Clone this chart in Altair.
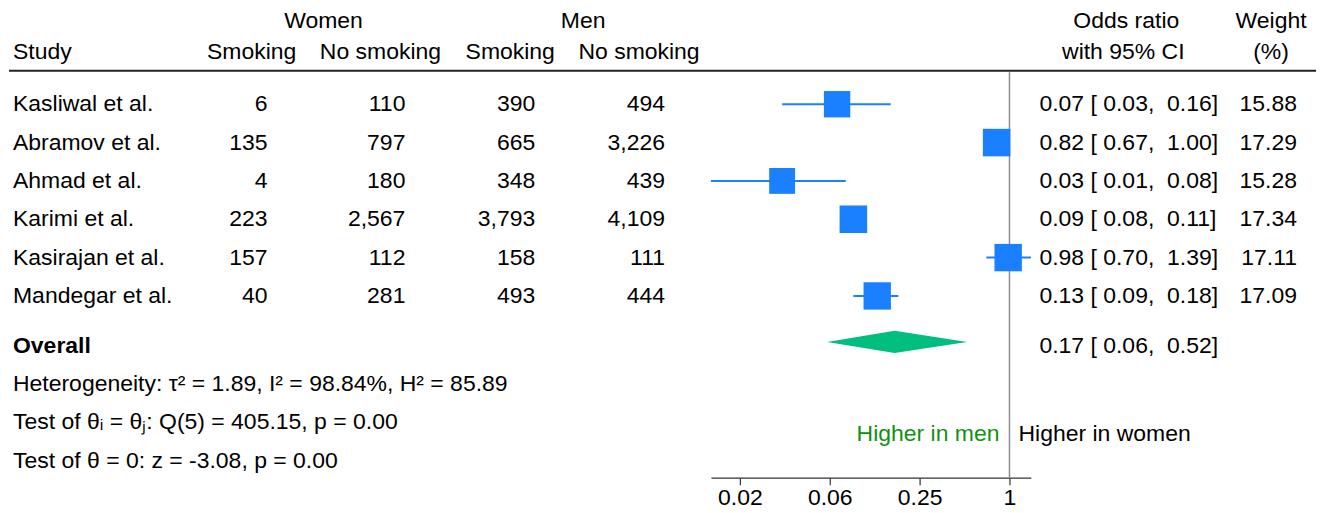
import altair as alt
import pandas as pd

# ---------------- data ----------------
studies = ["Kasliwal et al.", "Abramov et al.", "Ahmad et al.", "Karimi et al.",
           "Kasirajan et al.", "Mandegar et al."]
women_smoking = [6, 135, 4, 223, 157, 40]
women_no_smoking = [110, 797, 180, 2567, 112, 281]
men_smoking = [390, 665, 348, 3793, 158, 493]
men_no_smoking = [494, 3226, 439, 4109, 111, 444]
odds_ratio = [0.07, 0.82, 0.03, 0.09, 0.98, 0.13]
ci_low = [0.03, 0.67, 0.01, 0.08, 0.70, 0.09]
ci_high = [0.16, 1.00, 0.08, 0.11, 1.39, 0.18]
weight = [15.88, 17.29, 15.28, 17.34, 17.11, 17.09]

overall_or = 0.17
overall_low = 0.06
overall_high = 0.52

tick_values = [1 / 64, 1 / 16, 1 / 4, 1]

het_text = "Heterogeneity: \u03c4\u00b2 = 1.89, I\u00b2 = 98.84%, H\u00b2 = 85.89"
test1_text = "Test of \u03b8\u1d62 = \u03b8\u2c7c: Q(5) = 405.15, p = 0.00"
test2_text = "Test of \u03b8 = 0: z = -3.08, p = 0.00"

# ---------------- styling ----------------
FONT = "Liberation Sans"
FS = 23
BLUE = "#1A80FF"
GREEN_D = "#00BE7D"
GREEN_T = "#119111"
W, H = 1309, 470


def py(page_y):
    """page-pixel vertical position -> chart-internal position"""
    return page_y - 8


def ci_str(o, l, h):
    return f"{o:.2f} [ {l:.2f},\u00a0 {h:.2f}]"


df = pd.DataFrame({
    "study": studies,
    "ws": women_smoking,
    "wn": women_no_smoking,
    "ms": men_smoking,
    "mn": men_no_smoking,
    "or": odds_ratio,
    "lo": ci_low,
    "hi": ci_high,
    "w": weight,
})
df["row"] = list(range(len(studies)))
df["ci_text"] = [ci_str(o, l, h) for o, l, h in zip(odds_ratio, ci_low, ci_high)]

overall_row = 6.2
dhalf = 0.29
dia = pd.DataFrame({
    "x": [overall_low, overall_or, overall_high],
    "y": [overall_row, overall_row - dhalf, overall_row],
    "y2": [overall_row, overall_row + dhalf, overall_row],
})

xscale = alt.Scale(type="log", domain=[min(ci_low), max(ci_high)],
                   range=[703, 1023.4], nice=False, zero=False)
yscale = alt.Scale(domain=[0, 5], range=[py(104), py(296)], nice=False, zero=False)

xaxis = alt.Axis(values=tick_values,
                 labelExpr="datum.value >= 1 ? '1' : format(datum.value, '.2f')",
                 title=None, grid=False, tickSize=7, labelFont=FONT,
                 labelFontSize=FS, labelColor="black", domainColor="#333",
                 tickColor="#333", labelPadding=2, labelFlush=False,
                 labelOverlap=False, domainWidth=1.2, tickWidth=1.2)

one = pd.DataFrame({"v": [1.0]})


def txt(s, x, y, align="left", color="black", weight="normal"):
    return alt.Chart(one).mark_text(
        align=align, baseline="middle", font=FONT, fontSize=FS,
        color=color, fontWeight=weight
    ).encode(x=alt.value(x), y=alt.value(py(y)), text=alt.value(s))


base = alt.Chart(df)
Y = alt.Y("row:Q", scale=yscale, axis=None)


def col(field, x, align="right", fmt=None):
    t = alt.Text(f"{field}:N") if fmt is None else alt.Text(f"{field}:Q", format=fmt)
    return base.mark_text(align=align, baseline="middle", font=FONT,
                          fontSize=FS, color="black").encode(
        x=alt.value(x), y=Y, text=t)


layers = []

# header texts (page y positions)
layers += [
    txt("Women", 315, 21, "center"),
    txt("Men", 575, 21, "center"),
    txt("Odds ratio", 1119, 21, "center"),
    txt("Weight", 1264, 21, "center"),
    txt("Study", 4, 52, "left"),
    txt("Smoking", 243, 52, "center"),
    txt("No smoking", 372, 52, "center"),
    txt("Smoking", 502, 52, "center"),
    txt("No smoking", 631, 52, "center"),
    txt("with 95% CI", 1116, 52, "center"),
    txt("(%)", 1264, 52, "center"),
]

# header underline
layers.append(alt.Chart(one).mark_rule(color="#222", strokeWidth=2).encode(
    x=alt.value(0), x2=alt.value(W), y=alt.value(py(70.5))))

# reference line at OR = 1
layers.append(alt.Chart(one).mark_rule(color="#8c8c8c", strokeWidth=1.5).encode(
    x=alt.X("v:Q", scale=xscale, axis=xaxis), y=alt.value(py(72)), y2=alt.value(H)))

# table columns
layers += [
    col("study", 4, "left"),
    col("ws", 259, fmt=","),
    col("wn", 397, fmt=","),
    col("ms", 527, fmt=","),
    col("mn", 657, fmt=","),
    col("ci_text", 1032, "left"),
    col("w", 1290, fmt=".2f"),
]

# CI lines
layers.append(base.mark_rule(color=BLUE, strokeWidth=2).encode(
    x=alt.X("lo:Q", scale=xscale, axis=xaxis), x2="hi:Q", y=Y))

# squares
layers.append(base.mark_square(filled=True, color=BLUE, opacity=1).encode(
    x=alt.X("or:Q", scale=xscale, axis=xaxis), y=Y,
    size=alt.Size("w:Q", scale=alt.Scale(domain=[0, 20], range=[0, 880]),
                  legend=None)))

# overall diamond
layers.append(alt.Chart(dia).mark_area(color=GREEN_D, opacity=1).encode(
    x=alt.X("x:Q", scale=xscale, axis=xaxis),
    y=alt.Y("y:Q", scale=yscale, axis=None), y2="y2:Q"))

# overall texts
layers += [
    txt("Overall", 4, 346, "left", weight="bold"),
    txt(ci_str(overall_or, overall_low, overall_high), 1032, 346, "left"),
    txt(het_text, 4, 384, "left"),
    txt(test1_text, 4, 422, "left"),
    txt(test2_text, 4, 461, "left"),
    txt("Higher in men", 992, 434, "right", color=GREEN_T),
    txt("Higher in women", 1011, 434, "left"),
]

chart = alt.layer(*layers).properties(
    width=W, height=H, background="white", padding=0
).configure_view(stroke=None)

chart.save("out.html", embed_options={"renderer": "svg", "actions": False})
